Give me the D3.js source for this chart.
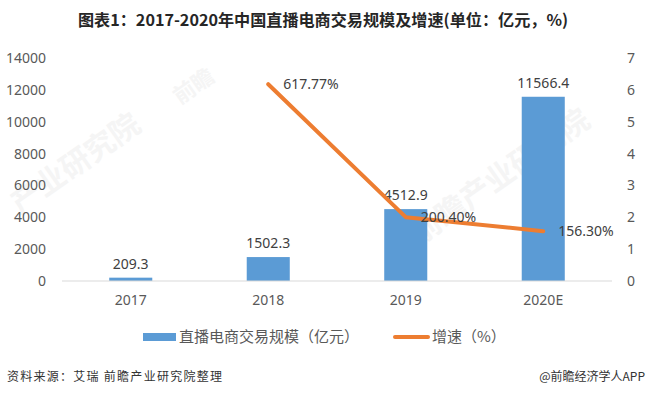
<!DOCTYPE html>
<html><head><meta charset="utf-8">
<script src="https://cdn.jsdelivr.net/npm/d3@7"></script>
<style>
html,body{margin:0;padding:0;background:#fff;}
svg{display:block;}
</style></head>
<body>
<svg id="chart" width="646" height="398"></svg>
<script>
const categories = ["2017", "2018", "2019", "2020E"];
const scaleValues = [209.3, 1502.3, 4512.9, 11566.4];
const scaleLabels = ["209.3", "1502.3", "4512.9", "11566.4"];
const growthValues = [null, 6.1777, 2.004, 1.563];
const growthLabels = ["", "617.77%", "200.40%", "156.30%"];
const leftTicks = [0, 2000, 4000, 6000, 8000, 10000, 12000, 14000];
const rightTicks = [0, 1, 2, 3, 4, 5, 6, 7];
const titleText = "图表1：2017-2020年中国直播电商交易规模及增速(单位：亿元，%)";
const legendBar = "直播电商交易规模（亿元）";
const legendLine = "增速（%）";
const sourceText = "资料来源：艾瑞 前瞻产业研究院整理";
const brandText = "@前瞻经济学人APP";

const svg = d3.select("#chart");
const numFont = "'Noto Sans', 'Noto Sans CJK SC', sans-serif";
const cjkFont = "'Noto Sans CJK SC', 'Noto Sans', sans-serif";

const x = d3.scaleBand().domain(categories).range([62, 612]).padding(0);
const y = d3.scaleLinear().domain([0, 14000]).range([281, 58]);
const y2 = d3.scaleLinear().domain([0, 7]).range([281, 58]);
const cx = c => x(c) + x.bandwidth() / 2;
const barW = x.bandwidth() * 0.313;

// watermarks
const wm = svg.append("g").attr("fill", "#f5f5f5").attr("font-family", cjkFont).attr("font-weight", "bold");
wm.append("text").attr("transform", "translate(20,215) rotate(-35)").attr("font-size", 30).text("产业研究院");
wm.append("text").attr("transform", "translate(420,245) rotate(-35)").attr("font-size", 30).text("前瞻产业研究院");
wm.append("text").attr("transform", "translate(180,105) rotate(-35)").attr("font-size", 22).text("前瞻");

// title
svg.append("text").attr("x", 323).attr("y", 26).attr("text-anchor", "middle")
  .attr("font-family", cjkFont).attr("font-weight", "bold").attr("font-size", 16)
  .attr("fill", "#262626").attr("textLength", 490).attr("lengthAdjust", "spacingAndGlyphs")
  .text(titleText);

// bars
svg.append("g").selectAll("rect").data(categories).join("rect")
  .attr("x", (c) => cx(c) - barW / 2)
  .attr("y", (c, i) => y(scaleValues[i]))
  .attr("width", barW)
  .attr("height", (c, i) => y(0) - y(scaleValues[i]))
  .attr("fill", "#5B9BD5");

// bar labels
svg.append("g").selectAll("text").data(categories).join("text")
  .attr("x", c => cx(c))
  .attr("y", (c, i) => y(scaleValues[i]) - 9)
  .attr("text-anchor", "middle")
  .attr("font-family", numFont).attr("font-size", 14).attr("fill", "#404040")
  .text((c, i) => scaleLabels[i]);

// axes
const leftAxis = d3.axisLeft(y).tickValues(leftTicks).tickSize(0).tickPadding(6).tickFormat(d3.format("d"));
const gl = svg.append("g").attr("transform", "translate(52,0)").call(leftAxis);
gl.select(".domain").remove();
gl.selectAll("text").attr("font-family", numFont).attr("font-size", 14).attr("fill", "#595959");

const rightAxis = d3.axisRight(y2).tickValues(rightTicks).tickSize(0).tickPadding(7).tickFormat(d3.format("d"));
const gr = svg.append("g").attr("transform", "translate(620,0)").call(rightAxis);
gr.select(".domain").remove();
gr.selectAll("text").attr("font-family", numFont).attr("font-size", 14).attr("fill", "#595959");

const bottomAxis = d3.axisBottom(x).tickSize(0).tickPadding(14);
const gb = svg.append("g").attr("transform", "translate(0,281)").call(bottomAxis);
gb.select(".domain").attr("stroke", "#d9d9d9").attr("stroke-width", 1).attr("d", "M62,0H612");
gb.selectAll("text").attr("font-family", numFont).attr("font-size", 14).attr("fill", "#595959");

// line
const pts = categories.map((c, i) => ({c, v: growthValues[i], l: growthLabels[i]})).filter(d => d.v !== null);
svg.append("path").datum(pts)
  .attr("d", d3.line().x(d => cx(d.c)).y(d => y2(d.v)))
  .attr("fill", "none").attr("stroke", "#ED7D31").attr("stroke-width", 4)
  .attr("stroke-linecap", "round").attr("stroke-linejoin", "round");

svg.append("g").selectAll("text").data(pts).join("text")
  .attr("x", d => cx(d.c) + 15)
  .attr("y", d => y2(d.v))
  .attr("dy", "0.36em")
  .attr("font-family", numFont).attr("font-size", 14).attr("fill", "#404040")
  .text(d => d.l);

// legend
const lg = svg.append("g");
lg.append("rect").attr("x", 143).attr("y", 333).attr("width", 33).attr("height", 8).attr("fill", "#5B9BD5");
lg.append("text").attr("x", 179).attr("y", 337).attr("dy", "0.36em")
  .attr("font-family", cjkFont).attr("font-size", 15).attr("fill", "#595959").text(legendBar);
lg.append("line").attr("x1", 395).attr("x2", 428).attr("y1", 337).attr("y2", 337)
  .attr("stroke", "#ED7D31").attr("stroke-width", 4).attr("stroke-linecap", "round");
lg.append("text").attr("x", 432).attr("y", 337).attr("dy", "0.36em")
  .attr("font-family", cjkFont).attr("font-size", 15).attr("fill", "#595959").text(legendLine);

// footer
svg.append("text").attr("x", 7).attr("y", 377).attr("dy", "0.36em")
  .attr("font-family", cjkFont).attr("font-size", 12).attr("fill", "#333")
  .attr("textLength", 215).attr("lengthAdjust", "spacing").text(sourceText);
svg.append("text").attr("x", 645).attr("y", 377).attr("dy", "0.36em").attr("text-anchor", "end")
  .attr("font-family", cjkFont).attr("font-size", 12).attr("fill", "#333").text(brandText);
</script>
</body></html>
